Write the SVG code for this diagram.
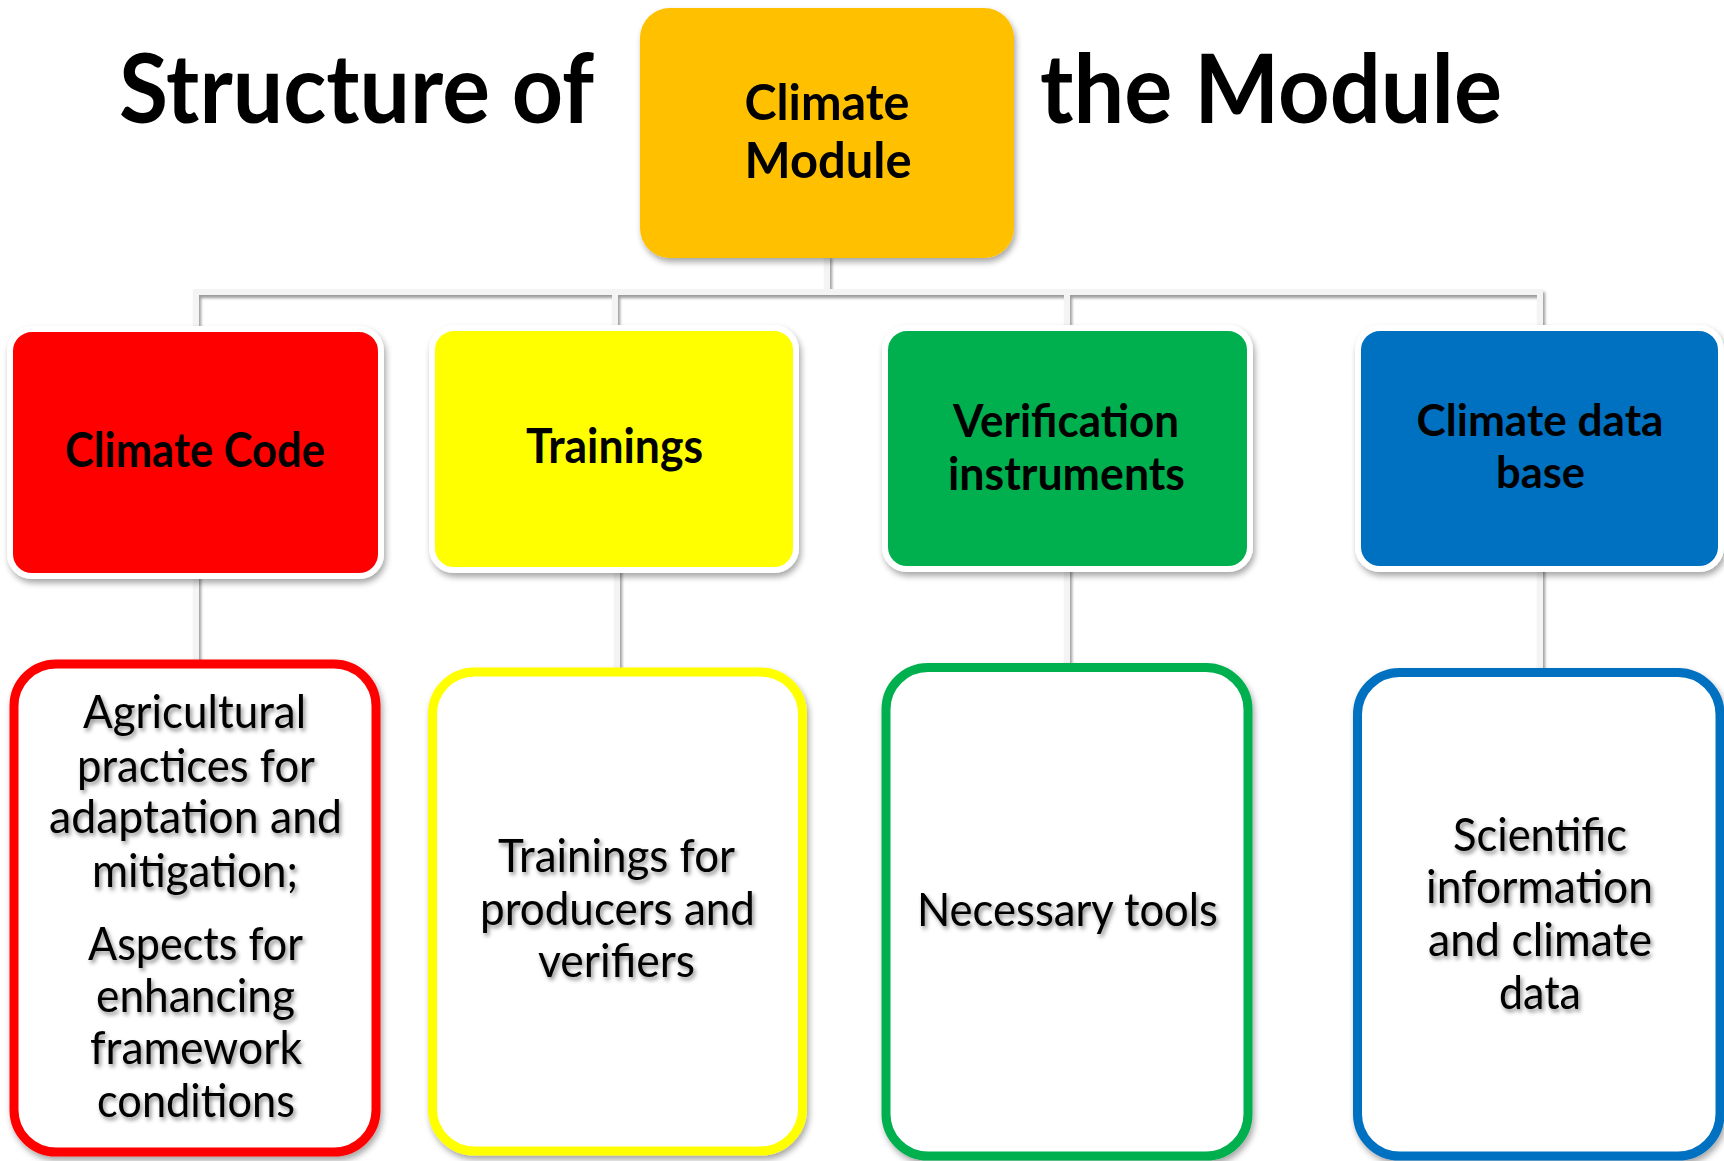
<svg xmlns="http://www.w3.org/2000/svg" width="1724" height="1161" viewBox="0 0 1724 1161">
  <defs>
    <filter id="lineShadow" filterUnits="userSpaceOnUse" x="0" y="0" width="1724" height="1161">
      <feDropShadow dx="2" dy="3" stdDeviation="1.5" flood-color="#707070" flood-opacity="0.7"/>
    </filter>
    <filter id="boxShadow" x="-10%" y="-10%" width="125%" height="125%">
      <feDropShadow dx="2" dy="4" stdDeviation="3" flood-color="#000000" flood-opacity="0.35"/>
    </filter>
    <filter id="textShadow" x="-10%" y="-30%" width="125%" height="170%">
      <feDropShadow dx="2" dy="3" stdDeviation="2" flood-color="#000000" flood-opacity="0.45"/>
    </filter>
  </defs>
  <style>
    .title { font-family: Lato, "Liberation Sans", sans-serif; font-weight: 700; font-size: 96px; fill: #000; }
    .bold { font-family: Lato, "Liberation Sans", sans-serif; font-weight: 700; font-size: 48px; fill: #000; text-anchor: middle; }
    .reg { font-family: Lato, "Liberation Sans", sans-serif; font-weight: 400; font-size: 47px; fill: #000; text-anchor: middle; filter: url(#textShadow); }
    .conn { stroke: #f4f4f4; stroke-width: 6; fill: none; stroke-linecap: square; }
    .top { stroke: #ffffff; stroke-width: 6; filter: url(#boxShadow); }
    .out { fill: #ffffff; stroke-width: 9; filter: url(#boxShadow); }
  </style>
  <rect width="1724" height="1161" fill="#ffffff"/>

  <g id="title">
    <text class="title" x="119" y="123" textLength="475" lengthAdjust="spacingAndGlyphs">Structure of</text>
    <text class="title" x="1040" y="123" textLength="462" lengthAdjust="spacingAndGlyphs">the Module</text>
  </g>

  <g id="connectors" filter="url(#lineShadow)">
    <path class="conn" d="M827 258 V292"/>
    <path class="conn" d="M196 332 V292 H1540 V331"/>
    <path class="conn" d="M615 292 V331"/>
    <path class="conn" d="M1067 292 V331"/>
    <path class="conn" d="M196 573 V660"/>
    <path class="conn" d="M617 567 V668"/>
    <path class="conn" d="M1067 566 V663"/>
    <path class="conn" d="M1540 566 V668"/>
  </g>

  <g id="climate-module">
    <rect x="640" y="8" width="374" height="250" rx="30" fill="#FFC000" filter="url(#boxShadow)"/>
    <text class="bold" x="827" y="120" textLength="165" lengthAdjust="spacingAndGlyphs" style="font-size:50px">Climate</text>
    <text class="bold" x="828" y="178" textLength="167" lengthAdjust="spacingAndGlyphs" style="font-size:50px">Module</text>
  </g>

  <g id="climate-code">
    <rect class="top" x="10" y="329" width="371" height="247" rx="22" fill="#FF0000"/>
    <text class="bold" x="195" y="467" textLength="260" lengthAdjust="spacingAndGlyphs">Climate Code</text>
  </g>

  <g id="trainings">
    <rect class="top" x="432" y="328" width="364" height="242" rx="22" fill="#FFFF00"/>
    <text class="bold" x="614.5" y="463" textLength="177" lengthAdjust="spacingAndGlyphs">Trainings</text>
  </g>

  <g id="verification-instruments">
    <rect class="top" x="885" y="328" width="365" height="241" rx="22" fill="#00B050"/>
    <text class="bold" x="1066" y="437" textLength="226" lengthAdjust="spacingAndGlyphs" style="font-size:45px">Verification</text>
    <text class="bold" x="1066.5" y="490" textLength="237" lengthAdjust="spacingAndGlyphs" style="font-size:45px">instruments</text>
  </g>

  <g id="climate-data-base">
    <rect class="top" x="1358" y="328" width="363" height="241" rx="22" fill="#0070C0"/>
    <text class="bold" x="1540" y="436" textLength="247" lengthAdjust="spacingAndGlyphs" style="font-size:43px">Climate data</text>
    <text class="bold" x="1540.5" y="488" textLength="89" lengthAdjust="spacingAndGlyphs" style="font-size:43px">base</text>
  </g>

  <g id="code-details">
    <rect class="out" x="14" y="664" width="362" height="488" rx="42" stroke="#FF0000"/>
    <text class="reg" x="194.5" y="728" textLength="223" lengthAdjust="spacingAndGlyphs">Agricultural</text>
    <text class="reg" x="196" y="782" textLength="238" lengthAdjust="spacingAndGlyphs">practices for</text>
    <text class="reg" x="195.5" y="833" textLength="293" lengthAdjust="spacingAndGlyphs">adaptation and</text>
    <text class="reg" x="195" y="887" textLength="206" lengthAdjust="spacingAndGlyphs">mitigation;</text>
    <text class="reg" x="195.5" y="960" textLength="215" lengthAdjust="spacingAndGlyphs">Aspects for</text>
    <text class="reg" x="195.5" y="1012" textLength="199" lengthAdjust="spacingAndGlyphs">enhancing</text>
    <text class="reg" x="196" y="1064" textLength="212" lengthAdjust="spacingAndGlyphs">framework</text>
    <text class="reg" x="196" y="1117" textLength="198" lengthAdjust="spacingAndGlyphs">conditions</text>
  </g>

  <g id="trainings-details">
    <rect class="out" x="432.5" y="672" width="370" height="479" rx="42" stroke="#FFFF00"/>
    <text class="reg" x="616.5" y="872" textLength="237" lengthAdjust="spacingAndGlyphs">Trainings for</text>
    <text class="reg" x="617.5" y="925" textLength="275" lengthAdjust="spacingAndGlyphs">producers and</text>
    <text class="reg" x="616.5" y="977" textLength="157" lengthAdjust="spacingAndGlyphs">verifiers</text>
  </g>

  <g id="verification-details">
    <rect class="out" x="886" y="667.5" width="362" height="488.5" rx="42" stroke="#00B050"/>
    <text class="reg" x="1067.5" y="926" textLength="301" lengthAdjust="spacingAndGlyphs">Necessary tools</text>
  </g>

  <g id="database-details">
    <rect class="out" x="1357.5" y="672.5" width="362.5" height="483.5" rx="42" stroke="#0070C0"/>
    <text class="reg" x="1540" y="851" textLength="174" lengthAdjust="spacingAndGlyphs">Scientific</text>
    <text class="reg" x="1539.5" y="903" textLength="227" lengthAdjust="spacingAndGlyphs">information</text>
    <text class="reg" x="1540" y="956" textLength="224" lengthAdjust="spacingAndGlyphs">and climate</text>
    <text class="reg" x="1540" y="1009" textLength="82" lengthAdjust="spacingAndGlyphs">data</text>
  </g>
</svg>
